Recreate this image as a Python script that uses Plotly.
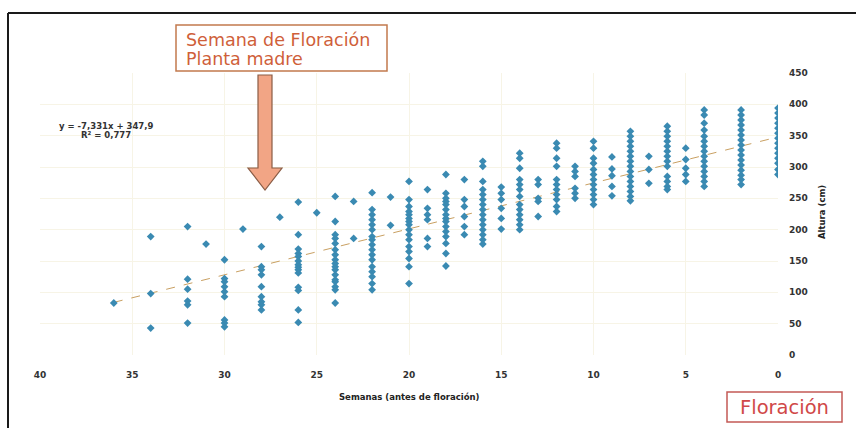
import plotly.graph_objects as go

# ---- data (weeks before flowering -> plant height, cm) ----
w36 = [83]
w34 = [189, 98, 43]
w32 = [205, 121, 105, 86, 80, 51]
w31 = [177]
w30 = [152, 122, 117, 109, 101, 93, 56, 51, 45]
w29 = [201]
w28 = [173, 141, 136, 128, 109, 93, 85, 80, 72]
w27 = [220]
w26 = [244, 192, 169, 162, 157, 150, 144, 140, 136, 131, 108, 103, 72, 52]
w25 = [227]
w24 = [253, 213, 192, 186, 178, 168, 160, 152, 146, 141, 136, 128, 120, 117, 109, 104, 83]
w23 = [245, 186]
w22 = [259, 232, 224, 216, 208, 200, 189, 184, 176, 168, 160, 152, 141, 133, 125, 114, 104]
w21 = [252, 207]
w20 = [277, 248, 237, 229, 224, 218, 213, 208, 200, 192, 184, 173, 165, 154, 141, 114]
w19 = [264, 234, 224, 216, 186, 173]
w18 = [288, 258, 250, 245, 240, 232, 224, 218, 213, 205, 197, 189, 178, 162, 142]
w17 = [280, 248, 237, 221, 205, 192]
w16 = [309, 301, 277, 264, 256, 248, 240, 232, 224, 216, 208, 200, 192, 184, 177]
w15 = [268, 258, 248, 234, 218, 201]
w14 = [322, 314, 298, 280, 272, 264, 253, 240, 232, 224, 216, 208, 200]
w13 = [280, 272, 250, 245, 221]
w12 = [338, 330, 314, 301, 280, 272, 264, 256, 248, 237, 229]
w11 = [301, 293, 285, 266, 258, 250]
w10 = [341, 330, 314, 306, 296, 288, 280, 272, 264, 256, 248, 240]
w9 = [316, 297, 286, 269, 254]
w8 = [357, 349, 341, 333, 325, 317, 309, 301, 293, 285, 277, 269, 261, 253, 246]
w7 = [317, 296, 274]
w6 = [365, 357, 349, 341, 333, 325, 317, 309, 301, 285, 277, 269, 264]
w5 = [330, 312, 298, 288, 277]
w4 = [391, 383, 370, 359, 349, 341, 333, 325, 317, 309, 301, 293, 285, 277, 269]
w2 = [391, 383, 375, 367, 359, 351, 343, 335, 327, 319, 311, 303, 295, 287, 280, 272]
w0 = [394, 386, 378, 370, 362, 354, 346, 338, 330, 322, 314, 306, 296, 288]

week_values = [36, 34, 32, 31, 30, 29, 28, 27, 26, 25, 24, 23, 22, 21, 20, 19, 18,
               17, 16, 15, 14, 13, 12, 11, 10, 9, 8, 7, 6, 5, 4, 2, 0]
week_heights = [w36, w34, w32, w31, w30, w29, w28, w27, w26, w25, w24, w23, w22, w21,
                w20, w19, w18, w17, w16, w15, w14, w13, w12, w11, w10, w9, w8, w7,
                w6, w5, w4, w2, w0]

# trend line shown on the chart: y = -7,331x + 347,9
trend_slope = -7.331
trend_intercept = 347.9
trend_x = [36, 0]

x_ticks = [40, 35, 30, 25, 20, 15, 10, 5, 0]
y_ticks = [0, 50, 100, 150, 200, 250, 300, 350, 400, 450]

xs, ys = [], []
for w, hs in zip(week_values, week_heights):
    for h in hs:
        xs.append(w)
        ys.append(h)

W, H = 856, 428
L, R, T, B = 40, 78, 73, 73
PW, PH = W - L - R, H - T - B


def px(x):
    return (x - L) / PW


def py(y):
    return (H - B - y) / PH


fig = go.Figure()
fig.add_trace(go.Scatter(
    x=trend_x, y=[trend_slope * v + trend_intercept for v in trend_x],
    mode="lines", line=dict(color="#c9a062", width=1, dash="dash"),
    hoverinfo="skip", showlegend=False))
fig.add_trace(go.Scatter(
    x=xs, y=ys, mode="markers",
    marker=dict(symbol="diamond", size=6, color="#3a8ab2",
                line=dict(width=0)),
    showlegend=False))

tickfont = dict(family="DejaVu Sans", size=9, color="#333333", weight="bold")

fig.update_layout(
    width=W, height=H, autosize=False,
    margin=dict(l=L, r=R, t=T, b=B),
    paper_bgcolor="white", plot_bgcolor="white",
    xaxis=dict(range=[40, 0], tickvals=x_ticks, ticktext=[str(v) for v in x_ticks],
               showgrid=True, gridcolor="#f7f4e6", gridwidth=1,
               zeroline=False, showline=False, ticks="",
               tickfont=tickfont, ticklabelstandoff=13),
    yaxis=dict(range=[0, 450], side="right", tickvals=y_ticks,
               showgrid=True, gridcolor="#f7f4e6", gridwidth=1,
               zeroline=False, showline=False, ticks="",
               tickfont=tickfont, ticklabelstandoff=10),
)

shapes = []
# outer frame (top and left edges)
shapes.append(dict(type="line", xref="paper", yref="paper",
                   x0=px(8), x1=px(856), y0=py(13), y1=py(13),
                   line=dict(color="#1a1a1a", width=2)))
shapes.append(dict(type="line", xref="paper", yref="paper",
                   x0=px(8), x1=px(8), y0=py(13), y1=py(428),
                   line=dict(color="#1a1a1a", width=2)))
# box "Semana de Floración"
shapes.append(dict(type="rect", xref="paper", yref="paper",
                   x0=px(176), x1=px(387), y0=py(25), y1=py(71),
                   line=dict(color="#c27a4e", width=1.5), fillcolor="white"))
# arrow
ax = [258, 272, 272, 282, 265, 248, 258, 258]
ay = [75, 75, 168, 168, 190, 168, 168, 75]
path = "M " + " L ".join(f"{px(a):.5f},{py(b):.5f}" for a, b in zip(ax, ay)) + " Z"
shapes.append(dict(type="path", xref="paper", yref="paper", path=path,
                   fillcolor="#f2a585", line=dict(color="#8a5c45", width=1.2)))
# box "Floración"
shapes.append(dict(type="rect", xref="paper", yref="paper",
                   x0=px(727), x1=px(842), y0=py(392), y1=py(422),
                   line=dict(color="#c45a55", width=1.5), fillcolor="white"))
fig.update_layout(shapes=shapes)

box_font = dict(family="DejaVu Sans", size=17.5, color="#cf5f3a")
eq_font = dict(family="DejaVu Sans", size=8.5, color="#333333", weight="bold")
title_font = dict(family="DejaVu Sans", size=8.5, color="#222222", weight="bold")

ann = []
ann.append(dict(xref="paper", yref="paper", x=px(184), y=py(40),
                xanchor="left", yanchor="middle", showarrow=False,
                text="Semana de Floración", font=box_font))
ann.append(dict(xref="paper", yref="paper", x=px(184), y=py(59),
                xanchor="left", yanchor="middle", showarrow=False,
                text="Planta madre", font=box_font))
ann.append(dict(xref="paper", yref="paper", x=px(784), y=py(407),
                xanchor="center", yanchor="middle", showarrow=False,
                text="Floración",
                font=dict(family="DejaVu Sans", size=19.5, color="#d04848")))
ann.append(dict(xref="paper", yref="paper", x=px(106), y=py(126),
                xanchor="center", yanchor="middle", showarrow=False,
                text="y = -7,331x + 347,9", font=eq_font))
ann.append(dict(xref="paper", yref="paper", x=px(106), y=py(135),
                xanchor="center", yanchor="middle", showarrow=False,
                text="R² = 0,777", font=eq_font))
ann.append(dict(xref="paper", yref="paper", x=px(410), y=py(397),
                xanchor="center", yanchor="middle", showarrow=False,
                text="Semanas (antes de floración)", font=title_font))
ann.append(dict(xref="paper", yref="paper", x=px(822), y=py(212),
                xanchor="center", yanchor="middle", showarrow=False, textangle=-90,
                text="Altura (cm)", font=title_font))
fig.update_layout(annotations=ann)

fig.write_html("out.html", config={"displayModeBar": False},
               post_script="document.body.style.margin='0';document.body.style.overflow='hidden';")
